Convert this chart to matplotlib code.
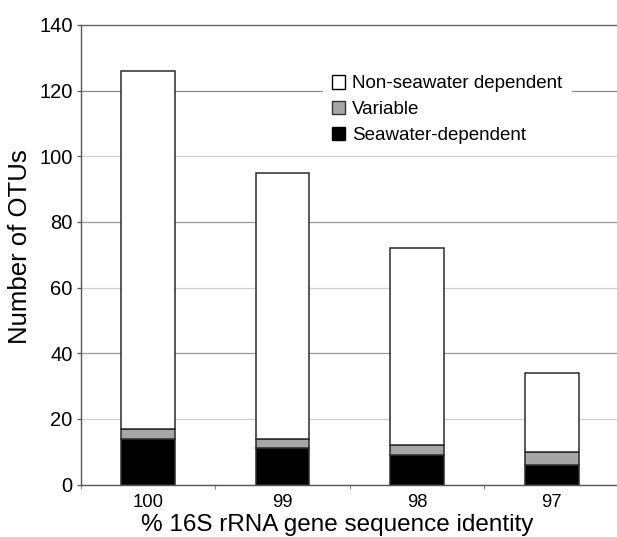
import matplotlib
matplotlib.use("Agg")
import matplotlib.pyplot as plt
from matplotlib.patches import Patch
import numpy as np

plt.rcParams['font.family'] = ['Liberation Sans', 'DejaVu Sans']

categories = ["100", "99", "98", "97"]
seawater_dependent = [14, 11, 9, 6]
variable = [3, 3, 3, 4]
non_seawater_dependent = [109, 81, 60, 24]
y_ticks = [0, 20, 40, 60, 80, 100, 120, 140]

W, H = 617, 537
fig = plt.figure(figsize=(W / 100, H / 100), dpi=100)
ax = fig.add_axes([80.5 / W, 52.5 / H, 538.5 / W, 459.5 / H])

x = np.arange(len(categories))
w = 0.40
edge = '#2a2a2a'
lw = 1.1
sw = np.array(seawater_dependent)
va = np.array(variable)
ns = np.array(non_seawater_dependent)
ax.bar(x, sw, w, color='black', edgecolor=edge, linewidth=lw, zorder=3)
ax.bar(x, va, w, bottom=sw, color='#a6a6a6', edgecolor=edge, linewidth=lw, zorder=3)
ax.bar(x, ns, w, bottom=sw + va, color='white', edgecolor=edge, linewidth=lw, zorder=3)

ax.set_xlim(-0.5, len(categories) - 0.5)
ax.set_ylim(0, 140)
ax.set_yticks(y_ticks)
ax.set_yticklabels([str(t) for t in y_ticks], fontsize=14.5)
ax.set_xticks(x)
ax.set_xticklabels(categories, fontsize=13.3)
ax.set_xticks(np.arange(len(categories) + 1) - 0.5, minor=True)
ax.tick_params(axis='x', which='major', length=0, pad=7)
ax.tick_params(axis='x', which='minor', length=3, width=0.8, color='#888888', direction='out')
ax.tick_params(axis='y', which='major', length=3.2, width=0.9, color='#555555', direction='out', pad=2.5)

ax.yaxis.grid(True, linewidth=0.9, zorder=0)
ax.set_axisbelow(True)
grid_cols = ['#cccccc', '#cfcfcf', '#9a9a9a', '#cfcfcf', '#9a9a9a', '#cfcfcf', '#8a8a8a', '#cccccc']
for gl, c in zip(ax.get_ygridlines(), grid_cols):
    gl.set_color(c)

ax.spines['right'].set_visible(False)
ax.spines['top'].set_color('#666666')
ax.spines['top'].set_linewidth(1.0)
ax.spines['left'].set_color('#555555')
ax.spines['left'].set_linewidth(1.0)
ax.spines['bottom'].set_color('#555555')
ax.spines['bottom'].set_linewidth(1.0)

fig.text(20 / W, 1 - 247 / H, "Number of OTUs", rotation=90, fontsize=18.5,
         ha='center', va='center')
fig.text(337 / W, 1 - 531 / H, "% 16S rRNA gene sequence identity", fontsize=17.5,
         ha='center', va='baseline')

handles = [Patch(facecolor='white', edgecolor='black', linewidth=1.0, label='Non-seawater dependent'),
           Patch(facecolor='#a6a6a6', edgecolor='#333333', linewidth=1.0, label='Variable'),
           Patch(facecolor='black', edgecolor='black', linewidth=1.0, label='Seawater-dependent')]
leg = ax.legend(handles=handles, loc='upper left',
                bbox_to_anchor=(323 / W, 1 - 66 / H), bbox_transform=fig.transFigure,
                frameon=True, fontsize=13.5, handlelength=0.66, handleheight=0.7, handletextpad=0.38,
                labelspacing=0.45, borderpad=0.5, borderaxespad=0, fancybox=False)
leg.get_frame().set_edgecolor('none')
leg.get_frame().set_facecolor('white')
leg.get_frame().set_alpha(1.0)
leg.set_zorder(5)

fig.savefig("out.png", dpi=100)
